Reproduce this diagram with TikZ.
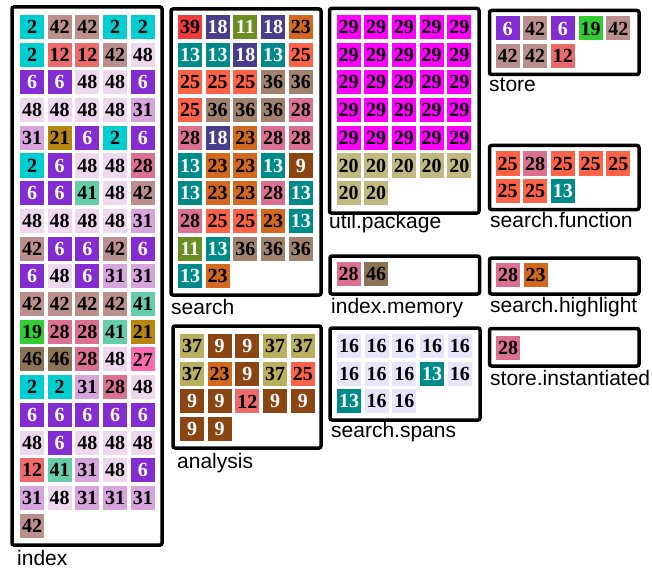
\documentclass[tikz,border=0pt]{standalone}
\usepackage{fontspec}
\setmainfont{Liberation Serif}
\setsansfont{Liberation Sans}
\newcommand\defnum[3]{\definecolor{f#1}{RGB}{#2}\colorlet{t#1}{#3}}
\defnum{2}{0,206,209}{black}
\defnum{42}{188,143,143}{black}
\defnum{12}{236,106,106}{black}
\defnum{48}{238,216,238}{black}
\defnum{6}{130,44,210}{white}
\defnum{31}{216,164,222}{black}
\defnum{21}{184,134,11}{black}
\defnum{28}{219,112,147}{black}
\defnum{41}{102,205,170}{black}
\defnum{19}{50,205,50}{black}
\defnum{46}{139,115,85}{black}
\defnum{27}{255,105,180}{black}
\defnum{39}{238,59,59}{black}
\defnum{18}{72,61,139}{white}
\defnum{11}{107,142,35}{white}
\defnum{23}{210,105,30}{black}
\defnum{13}{0,139,139}{white}
\defnum{25}{255,99,71}{black}
\defnum{36}{160,130,110}{black}
\defnum{9}{139,69,19}{white}
\defnum{37}{185,176,95}{black}
\defnum{29}{255,0,255}{black}
\defnum{20}{192,186,128}{black}
\defnum{16}{230,230,250}{black}
\tikzset{
  numcell/.style={fill=f#1, text=t#1, minimum size=24pt, inner sep=0pt,
    font=\fontsize{20}{20}\selectfont\bfseries},
  groupbox/.style={draw=black, line width=3.5pt, rounded corners=2pt},
  grouplabel/.style={anchor=base west, inner sep=0pt,
    font=\sffamily\fontsize{21}{21}\selectfont}
}
\newcommand\cellgrid[4]{%
  \foreach \n [count=\i from 0] in {#4} {%
    \pgfmathsetmacro\cx{#2+mod(\i,5)*27.7}%
    \pgfmathsetmacro\cy{#3+int(\i/5)*27.7}%
    \node[numcell=\n] (#1-\i) at (\cx,\cy) {\n};
  }}
\begin{document}
\begin{tikzpicture}[x=1pt,y=-1pt]
\useasboundingbox (0,0) rectangle (652,572);
% index
\draw[groupbox] (12,7) rectangle (162,545);
\cellgrid{index}{32}{27}{2,42,42,2,2, 2,12,12,42,48, 6,6,48,48,6, 48,48,48,48,31, 31,21,6,2,6, 2,6,48,48,28, 6,6,41,48,42, 48,48,48,48,31, 42,6,6,42,6, 6,48,6,31,31, 42,42,42,42,41, 19,28,28,41,21, 46,46,28,48,27, 2,2,31,28,48, 6,6,6,6,6, 48,6,48,48,48, 12,41,31,48,6, 31,48,31,31,31, 42}
\node[grouplabel] (lindex) at (17,565) {index};
% search
\draw[groupbox] (171,9) rectangle (321,295);
\cellgrid{search}{190}{27}{39,18,11,18,23, 13,13,18,13,25, 25,25,25,36,36, 25,36,36,36,28, 28,18,23,28,28, 13,23,23,13,9, 13,23,23,28,13, 28,25,25,23,13, 11,13,36,36,36, 13,23}
\node[grouplabel] (lsearch) at (171,314) {search};
% analysis
\draw[groupbox] (173,326) rectangle (321,448);
\cellgrid{analysis}{192}{346}{37,9,9,37,37, 37,23,9,37,25, 9,9,12,9,9, 9,9}
\node[grouplabel] (lanalysis) at (177,468) {analysis};
% util.package
\draw[groupbox] (329.5,8.5) rectangle (479,213);
\cellgrid{util}{348.5}{27}{29,29,29,29,29, 29,29,29,29,29, 29,29,29,29,29, 29,29,29,29,29, 29,29,29,29,29, 20,20,20,20,20, 20,20}
\node[grouplabel] (lutil) at (329,228) {util.package};
% index.memory
\draw[groupbox] (330,256) rectangle (479.5,294);
\cellgrid{imem}{348.5}{274}{28,46}
\node[grouplabel] (limem) at (331,313) {index.memory};
% search.spans
\draw[groupbox] (330,328) rectangle (480,420);
\cellgrid{spans}{349}{346}{16,16,16,16,16, 16,16,16,13,16, 13,16,16}
\node[grouplabel] (lspans) at (331,437) {search.spans};
% store
\draw[groupbox] (489.5,10.5) rectangle (639,74.5);
\cellgrid{store}{507.5}{28.5}{6,42,6,19,42, 42,42,12}
\node[grouplabel] (lstore) at (489,92) {store};
% search.function
\draw[groupbox] (489.5,145.5) rectangle (639,209.5);
\cellgrid{sfun}{507.5}{163.5}{25,28,25,25,25, 25,25,13}
\node[grouplabel] (lsfun) at (490,227) {search.function};
% search.highlight
\draw[groupbox] (489.5,258) rectangle (639,294);
\cellgrid{shl}{508}{274.5}{28,23}
\node[grouplabel] (lshl) at (490,312) {search.highlight};
% store.instantiated
\draw[groupbox] (489.5,328.5) rectangle (639,366);
\cellgrid{sinst}{508}{348}{28}
\node[grouplabel] (lsinst) at (490,385) {store.instantiated};
\end{tikzpicture}
\end{document}
